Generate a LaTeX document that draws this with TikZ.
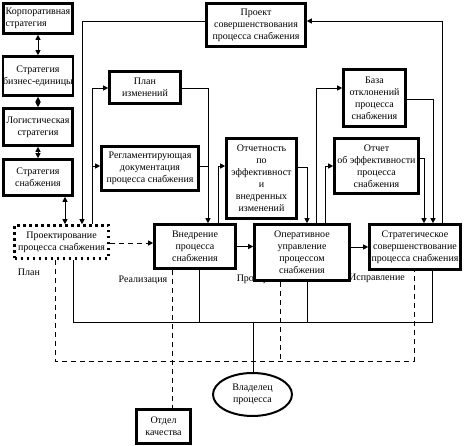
\documentclass[tikz,border=0pt]{standalone}
\usepackage{fontspec}
\setmainfont{Liberation Serif}
\usetikzlibrary{arrows.meta,shapes.geometric}
\begin{document}
\begin{tikzpicture}[x=1pt,y=-1pt,
 font=\fontsize{10}{12}\selectfont,
 box/.style={draw, line width=2.6pt, fill=white, align=center, inner sep=0pt},
 dotbox/.style={draw, line width=2.6pt, dash pattern=on 2.6pt off 3.4pt, fill=white, align=center, inner sep=0pt},
 conn/.style={line width=0.8pt},
 arr/.style={conn, -{Triangle[length=5pt,width=5pt]}},
 darr/.style={conn, {Triangle[length=5pt,width=5pt]}-{Triangle[length=5pt,width=5pt]}},
 dsh/.style={conn, dash pattern=on 5pt off 4pt},
 lbl/.style={inner sep=0pt}
]
\useasboundingbox (0,0) rectangle (467,446);

% labels (drawn first so boxes cover parts of them)
\node[lbl] (lplan) at (29,272) {План};
\node[lbl] (lreal) at (143,280) {Реализация};
\node[lbl] (lprov) at (257,279) {Проверка};
\node[lbl] (lispr) at (377,278) {Исправление};

% left column
\node[box, minimum width=69pt, minimum height=30pt, align=left] (corp) at (38,18.5) {Корпоративная\\стратегия};
\node[box, minimum width=69pt, minimum height=39pt] (biz) at (38,76) {Стратегия\\бизнес-единицы};
\node[box, minimum width=69pt, minimum height=37pt] (log) at (38,127) {Логистическая\\стратегия};
\node[box, minimum width=69pt, minimum height=36pt] (snab) at (38,177.5) {Стратегия\\снабжения};
\node[dotbox, minimum width=94pt, minimum height=33pt] (proj) at (61.5,242) {Проектирование\\процесса снабжения};

% other boxes
\node[box, minimum width=99pt, minimum height=43pt] (proekt) at (256,25) {Проект\\совершенствования\\процесса снабжения};
\node[box, minimum width=71pt, minimum height=32pt] (plan) at (145,87.5) {План\\изменений};
\node[box, minimum width=97pt, minimum height=44pt] (reg) at (150,168.5) {Регламентирующая\\документация\\процесса снабжения};
\node[box, minimum width=81pt, minimum height=44pt] (vned) at (195,246.5) {Внедрение\\процесса\\снабжения};
\node[box, minimum width=70pt, minimum height=80pt] (otch) at (261.5,178.5) {Отчетность\\по\\эффективност\\и\\внедренных\\изменений};
\node[box, minimum width=95pt, minimum height=56pt] (oper) at (302,252.5) {Оперативное\\управление\\процессом\\снабжения};
\node[box, minimum width=62pt, minimum height=57pt] (baza) at (374.5,98) {База\\отклонений\\процесса\\снабжения};
\node[box, minimum width=84pt, minimum height=55pt] (otchef) at (376.5,166) {Отчет\\\makebox[0pt]{об эффективности}\\процесса\\снабжения};
\node[box, minimum width=91pt, minimum height=45pt] (strat) at (415,247) {Стратегическое\\\makebox[0pt]{совершенствование}\\\makebox[0pt]{процесса снабжения}};
\node[ellipse, draw, line width=2pt, fill=white, align=center, inner sep=0pt, minimum width=79pt, minimum height=43pt] (owner) at (252.5,394.5) {Владелец\\процесса};
\node[box, minimum width=54pt, minimum height=34pt] (qual) at (163.5,426.5) {Отдел\\качества};

% helper coordinates
\coordinate (c0) at (65,210);
\coordinate (c1) at (82,21);
\coordinate (c2) at (442,21);
\coordinate (c3) at (92,88);
\coordinate (c4) at (92,166);
\coordinate (c5) at (208,88);
\coordinate (c7) at (218,166);
\coordinate (c8) at (307,167);
\coordinate (c9) at (316,88);
\coordinate (c10) at (325,166);
\coordinate (c11) at (433,99);
\coordinate (c12) at (424,158);
\coordinate (b1) at (73,322);
\coordinate (b2) at (199,322);
\coordinate (b3) at (307,322);
\coordinate (b4) at (432,322);
\coordinate (b5) at (253,322);
\coordinate (d1) at (55,361);
\coordinate (d2) at (172,361);
\coordinate (d3) at (280,361);
\coordinate (d4) at (414,361);

% left column arrows
\draw[darr] (corp.south) -- (biz.north);
\draw[darr] (biz.south) -- (log.north);
\draw[darr] (log.south) -- (snab.north);
\draw[darr] (c0 |- snab.south) -- (c0 |- proj.north);

% top connectors
\draw[arr] (proekt.west |- c1) -- (c1) -- (c1 |- proj.north);
\draw[arr] (c2 |- strat.north) -- (c2) -- (c2 -| proekt.east);
\draw[arr] (c3 |- proj.north) -- (c3) -- (c3 -| plan.west);
\draw[arr] (c4) -- (c4 -| reg.west);
\draw[arr] (c5 -| plan.east) -- (c5) -- (c5 |- vned.north);
\draw[conn] (reg.east |- c4) -- (c5 |- c4);
\draw[arr] (c7 |- vned.north) -- (c7) -- (c7 -| otch.west);
\draw[arr] (otch.east |- c8) -- (c8) -- (c8 |- oper.north);
\draw[arr] (c9 |- oper.north) -- (c9) -- (c9 -| baza.west);
\draw[arr] (c10 |- oper.north) -- (c10) -- (c10 -| otchef.west);
\draw[arr] (baza.east |- c11) -- (c11) -- (c11 |- strat.north);
\draw[arr] (otchef.east |- c12) -- (c12) -- (c12 |- strat.north);

% main flow
\draw[dsh, -{Triangle[length=5pt,width=5pt]}] (proj.east |- 0,243) -- (vned.west |- 0,243);
\draw[arr] (vned.east) -- (vned.east -| oper.west);
\draw[arr] (oper.east |- strat.west) -- (strat.west);

% bottom solid lines
\draw[conn] (b1 |- proj.south) -- (b1) -- (b4) -- (b4 |- strat.south);
\draw[conn] (b2 |- vned.south) -- (b2);
\draw[conn] (b3 |- oper.south) -- (b3);
\draw[conn] (b5) -- (b5 |- owner.north);

% bottom dashed lines
\draw[dsh] (d1 |- proj.south) -- (d1) -- (d4) -- (d4 |- strat.south);
\draw[dsh] (d2 |- vned.south) -- (d2 |- qual.north);
\draw[dsh] (d3 |- oper.south) -- (d3);
\end{tikzpicture}
\end{document}
